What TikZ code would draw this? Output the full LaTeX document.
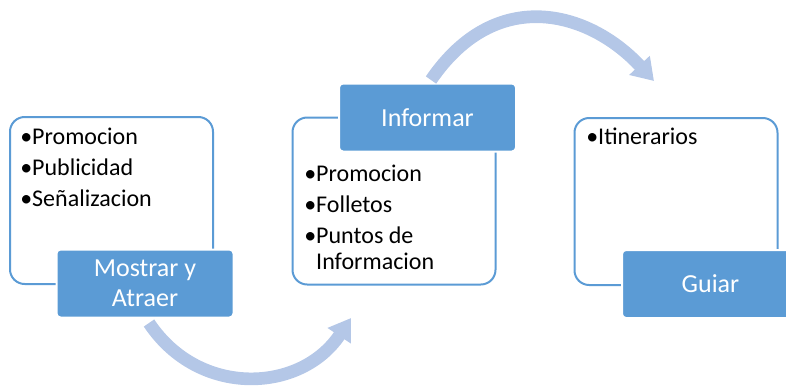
\documentclass[tikz,border=0pt]{standalone}
\usepackage{fontspec}
\setmainfont{Carlito}
\usetikzlibrary{arrows.meta}
\definecolor{azul}{HTML}{5B9BD5}
\definecolor{celeste}{HTML}{B4C7E7}

\begin{document}
\begin{tikzpicture}[x=0.75pt,y=-0.75pt,
    caja/.style={draw=azul,line width=1.5pt,rounded corners=11pt,fill=white,inner sep=0pt,minimum width=152.25pt,minimum height=125.25pt},
    titulo/.style={draw=white,line width=1.5pt,rounded corners=3pt,fill=azul,text=white,inner sep=0pt,minimum width=132.75pt,minimum height=51pt,align=center,font=\fontsize{19.5pt}{22.5pt}\selectfont},
    lista/.style={anchor=north west,inner sep=0pt,align=left,font=\fontsize{18pt}{23.25pt}\selectfont},
    flecha/.style={draw=celeste,line width=9.5pt,-{Triangle[width=20pt,length=16pt]}}]
        \clip (0,0) rectangle (786,386);

        \coordinate (c1) at (149,323);
        \coordinate (c2) at (351,318);
        \coordinate (c3) at (431,80);
        \coordinate (c4) at (654,81);

        \node[caja] (l1) at (111.5,200.5) {};
        \node[caja] (l2) at (394,201) {};
        \node[caja] (l3) at (676,201.5) {};

        \node[titulo] (t1) at (145,283.5) {Mostrar y\\Atraer};
        \node[titulo] (t2) at (427.5,117.5) {Informar};
        \node[titulo] (t3) at (710.5,284) {Guiar};

        \node[lista] (p1) at (20,127.5) {•Promocion\\•Publicidad\\•Señalizacion};
        \node[lista] (p2) at (304,164.5) {•Promocion\\•Folletos\\•Puntos de\\[-3.5pt]\phantom{•}Informacion};
        \node[lista] (p3) at (586,127.5) {•Itinerarios};

        \path (c1) edge[flecha,controls={+(50,75) and +(-50,75)}] (c2);
        \path (c3) edge[flecha,controls={+(65,-95) and +(-65,-70)}] (c4);
    \end{tikzpicture}
\end{document}
